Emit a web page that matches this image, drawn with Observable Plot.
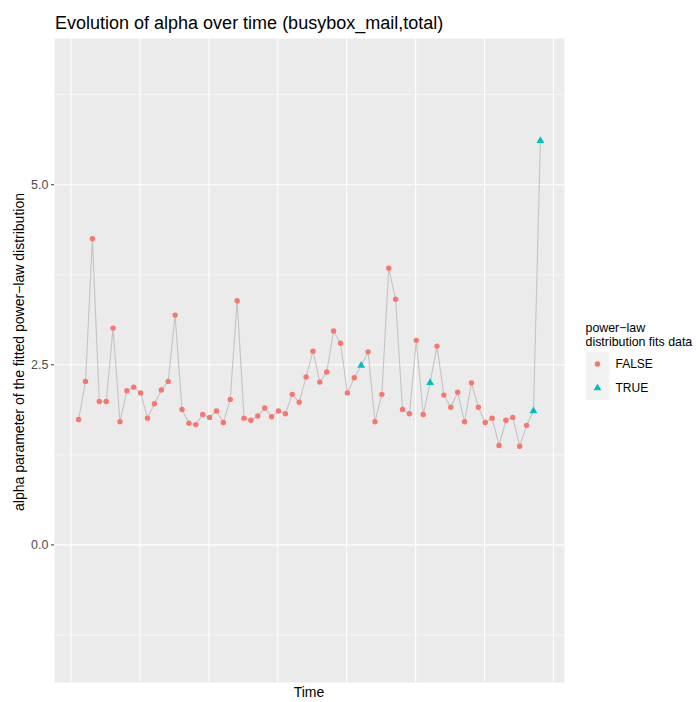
<!DOCTYPE html>
<html><head><meta charset="utf-8">
<script src="https://cdn.jsdelivr.net/npm/d3@7"></script>
<script src="https://cdn.jsdelivr.net/npm/@observablehq/plot@0.6"></script>
<style>
html,body{margin:0;padding:0;background:#fff;}
#chart{position:absolute;left:0;top:0;}
</style>
</head><body><div id="chart"></div>
<script>
// Data
const alpha = [1.74, 2.27, 4.25, 1.99, 1.99, 3.01, 1.71, 2.14, 2.19, 2.11,
               1.76, 1.96, 2.15, 2.27, 3.19, 1.88, 1.69, 1.67, 1.81, 1.77,
               1.86, 1.70, 2.02, 3.39, 1.76, 1.73, 1.79, 1.90, 1.78, 1.86,
               1.82, 2.09, 1.98, 2.33, 2.69, 2.26, 2.40, 2.97, 2.80, 2.11,
               2.32, 2.49, 2.68, 1.71, 2.09, 3.84, 3.41, 1.88, 1.82, 2.84,
               1.81, 2.25, 2.76, 2.08, 1.91, 2.12, 1.71, 2.25, 1.91, 1.70,
               1.76, 1.38, 1.73, 1.77, 1.37, 1.66, 1.86, 5.61];
const fitsTruePositions = [42, 52, 67, 68]; // 1-based positions where power-law fits
const yMajor = [0, 2.5, 5];
const yMinor = [-1.25, 1.25, 3.75, 6.25];
const yTickLabels = ["0.0", "2.5", "5.0"];
const xGrid = [-1.1, 8.9, 18.9, 28.9, 38.9, 48.9, 58.9, 68.9];
const legendLabels = ["FALSE", "TRUE"];
const legendColors = ["#F8766D", "#00BFC4"];
const legendSymbols = ["circle", "triangle"];

const data = alpha.map((a, i) => ({period: i, alpha: a, fits: fitsTruePositions.includes(i + 1)}));

const W = 697, H = 702;
const font = "'Liberation Sans', Arial, Helvetica, sans-serif";

const plot = Plot.plot({
  width: W, height: H,
  marginLeft: 54, marginRight: 133, marginTop: 38, marginBottom: 20,
  style: {fontFamily: font, background: "#fff", overflow: "visible"},
  x: {domain: [-3.5, 70.5], axis: null},
  y: {domain: [-1.91, 7.03], axis: null},
  marks: [
    Plot.frame({fill: "#EBEBEB", stroke: null}),
    Plot.gridY(yMinor, {stroke: "#fff", strokeOpacity: 1, strokeWidth: 0.55}),
    Plot.gridY(yMajor, {stroke: "#fff", strokeOpacity: 1, strokeWidth: 1.1}),
    Plot.gridX(xGrid, {stroke: "#fff", strokeOpacity: 1, strokeWidth: 1.1}),
    Plot.axisY(yMajor, {tickSize: 3, tickPadding: 3, stroke: "#333333", fill: "#4D4D4D",
      fontSize: 12.5, label: null, tickFormat: d => yTickLabels[yMajor.indexOf(d)]}),
    Plot.line(data, {x: "period", y: "alpha", stroke: "#C4C4C4", strokeWidth: 1.1}),
    Plot.dot(data.filter(d => !d.fits), {x: "period", y: "alpha", r: 2.7, fill: legendColors[0], symbol: "circle"}),
    Plot.dot(data.filter(d => d.fits), {x: "period", y: "alpha", r: 2.9, fill: legendColors[1], symbol: "triangle"})
  ]
});

document.getElementById("chart").appendChild(plot);
const svg = d3.select(plot);
const txt = (sel) => sel.attr("font-family", font).attr("fill", "#000").attr("text-anchor", "start");

// Title
txt(svg.append("text")).attr("x", 55).attr("y", 28.5).attr("font-size", 18)
  .text("Evolution of alpha over time (busybox_mail,total)");

// Axis titles
txt(svg.append("text")).attr("transform", "translate(24,352) rotate(-90)")
  .attr("text-anchor", "middle").attr("font-size", 14)
  .text("alpha parameter of the fitted power\u2212law distribution");
txt(svg.append("text")).attr("x", 309).attr("y", 697)
  .attr("text-anchor", "middle").attr("font-size", 14)
  .text("Time");

// Legend
const lg = svg.append("g");
txt(lg.append("text")).attr("x", 585.5).attr("y", 331.5).attr("font-size", 12.4).text("power\u2212law");
txt(lg.append("text")).attr("x", 585.5).attr("y", 345.5).attr("font-size", 12.4).text("distribution fits data");
legendLabels.forEach((lab, k) => {
  const y0 = 352 + k * 24;
  lg.append("rect").attr("x", 585.5).attr("y", y0).attr("width", 24).attr("height", 24).attr("fill", "#F2F2F2");
  const sym = legendSymbols[k] === "circle" ? d3.symbolCircle : d3.symbolTriangle;
  const r = k === 0 ? 2.7 : 2.9;
  lg.append("path").attr("transform", `translate(597.5,${y0 + 12})`)
    .attr("d", d3.symbol(sym, Math.PI * r * r)()).attr("fill", legendColors[k]);
  txt(lg.append("text")).attr("x", 615.5).attr("y", y0 + 12).attr("dy", "0.35em")
    .attr("font-size", 12).text(lab);
});
</script>
</body></html>
